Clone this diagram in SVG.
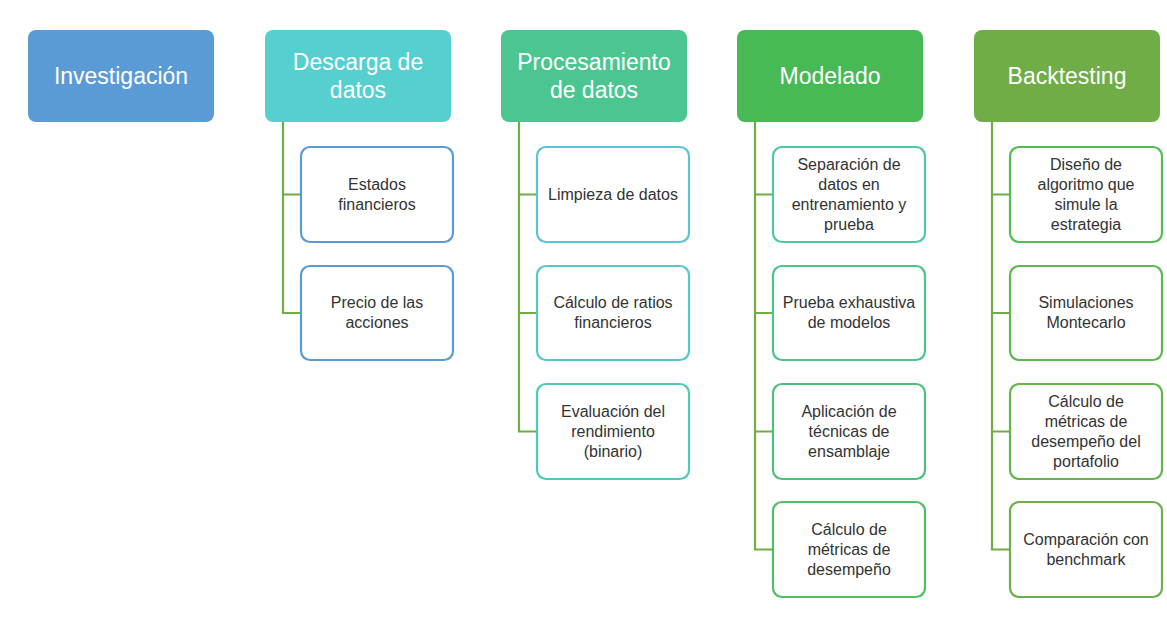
<svg xmlns="http://www.w3.org/2000/svg" width="1167" height="626" viewBox="0 0 1167 626">
<style>
.hd{stroke:none}
.ht{font-family:"Liberation Sans",Arial,sans-serif;font-size:23px;fill:#ffffff;text-anchor:middle}
.ch{fill:#ffffff;stroke-width:2.2}
.ct{font-family:"Liberation Sans",Arial,sans-serif;font-size:16px;fill:#333333;text-anchor:middle}
.cn{fill:none;stroke:#70AD47;stroke-width:2.2}
</style>
<rect width="1167" height="626" fill="#ffffff"/>
<g id="connectors">
<path class="cn" d="M283 122V313H301M283 194.5H301"/>
<path class="cn" d="M519 122V431.5H537M519 194.5H537M519 313H537"/>
<path class="cn" d="M755 122V549.5H773M755 194.5H773M755 313H773M755 431.5H773"/>
<path class="cn" d="M992 122V549.5H1010M992 194.5H1010M992 313H1010M992 431.5H1010"/>
</g>
<g id="investigacion">
<rect class="hd" x="28" y="30" width="186" height="92" rx="8" fill="#5B9BD5"/>
<text class="ht" x="121" y="84">Investigación</text>
</g>
<g id="descarga">
<rect class="hd" x="265" y="30" width="186" height="92" rx="8" fill="#56CFCF"/>
<text class="ht" x="358" y="70">Descarga de</text>
<text class="ht" x="358" y="98">datos</text>
</g>
<g id="procesamiento">
<rect class="hd" x="501" y="30" width="186" height="92" rx="8" fill="#4CC690"/>
<text class="ht" x="594" y="70">Procesamiento</text>
<text class="ht" x="594" y="98">de datos</text>
</g>
<g id="modelado">
<rect class="hd" x="737" y="30" width="186" height="92" rx="8" fill="#47BA55"/>
<text class="ht" x="830" y="84">Modelado</text>
</g>
<g id="backtesting">
<rect class="hd" x="974" y="30" width="186" height="92" rx="8" fill="#70AD47"/>
<text class="ht" x="1067" y="84">Backtesting</text>
</g>
<g id="estados">
<rect class="ch" x="301" y="147" width="152" height="95" rx="9" stroke="#5B9BD5"/>
<text class="ct" x="377" y="190">Estados</text>
<text class="ct" x="377" y="210">financieros</text>
</g>
<g id="precio">
<rect class="ch" x="301" y="266" width="152" height="94" rx="9" stroke="#5B9BD5"/>
<text class="ct" x="377" y="308">Precio de las</text>
<text class="ct" x="377" y="328">acciones</text>
</g>
<g id="limpieza">
<rect class="ch" x="537" y="147" width="152" height="95" rx="9" stroke="#5BC3D6"/>
<text class="ct" x="613" y="200">Limpieza de datos</text>
</g>
<g id="ratios">
<rect class="ch" x="537" y="266" width="152" height="94" rx="9" stroke="#56C7CB"/>
<text class="ct" x="613" y="308">Cálculo de ratios</text>
<text class="ct" x="613" y="328">financieros</text>
</g>
<g id="evaluacion">
<rect class="ch" x="537" y="384" width="152" height="95" rx="9" stroke="#4ECBB4"/>
<text class="ct" x="613" y="417">Evaluación del</text>
<text class="ct" x="613" y="437">rendimiento</text>
<text class="ct" x="613" y="457">(binario)</text>
</g>
<g id="separacion">
<rect class="ch" x="773" y="147" width="152" height="95" rx="9" stroke="#4DC9A0"/>
<text class="ct" x="849" y="170">Separación de</text>
<text class="ct" x="849" y="190">datos en</text>
<text class="ct" x="849" y="210">entrenamiento y</text>
<text class="ct" x="849" y="230">prueba</text>
</g>
<g id="prueba">
<rect class="ch" x="773" y="266" width="152" height="94" rx="9" stroke="#4CC48A"/>
<text class="ct" x="849" y="308">Prueba exhaustiva</text>
<text class="ct" x="849" y="328">de modelos</text>
</g>
<g id="aplicacion">
<rect class="ch" x="773" y="384" width="152" height="95" rx="9" stroke="#4CC17A"/>
<text class="ct" x="849" y="417">Aplicación de</text>
<text class="ct" x="849" y="437">técnicas de</text>
<text class="ct" x="849" y="457">ensamblaje</text>
</g>
<g id="metricas">
<rect class="ch" x="773" y="502" width="152" height="95" rx="9" stroke="#4FBF63"/>
<text class="ct" x="849" y="535">Cálculo de</text>
<text class="ct" x="849" y="555">métricas de</text>
<text class="ct" x="849" y="575">desempeño</text>
</g>
<g id="diseno">
<rect class="ch" x="1010" y="147" width="152" height="95" rx="9" stroke="#52BC55"/>
<text class="ct" x="1086" y="170">Diseño de</text>
<text class="ct" x="1086" y="190">algoritmo que</text>
<text class="ct" x="1086" y="210">simule la</text>
<text class="ct" x="1086" y="230">estrategia</text>
</g>
<g id="simulaciones">
<rect class="ch" x="1010" y="266" width="152" height="94" rx="9" stroke="#5BB94F"/>
<text class="ct" x="1086" y="308">Simulaciones</text>
<text class="ct" x="1086" y="328">Montecarlo</text>
</g>
<g id="portafolio">
<rect class="ch" x="1010" y="384" width="152" height="95" rx="9" stroke="#64B54C"/>
<text class="ct" x="1086" y="407">Cálculo de</text>
<text class="ct" x="1086" y="427">métricas de</text>
<text class="ct" x="1086" y="447">desempeño del</text>
<text class="ct" x="1086" y="467">portafolio</text>
</g>
<g id="benchmark">
<rect class="ch" x="1010" y="502" width="152" height="95" rx="9" stroke="#6DB049"/>
<text class="ct" x="1086" y="545">Comparación con</text>
<text class="ct" x="1086" y="565">benchmark</text>
</g>
</svg>
